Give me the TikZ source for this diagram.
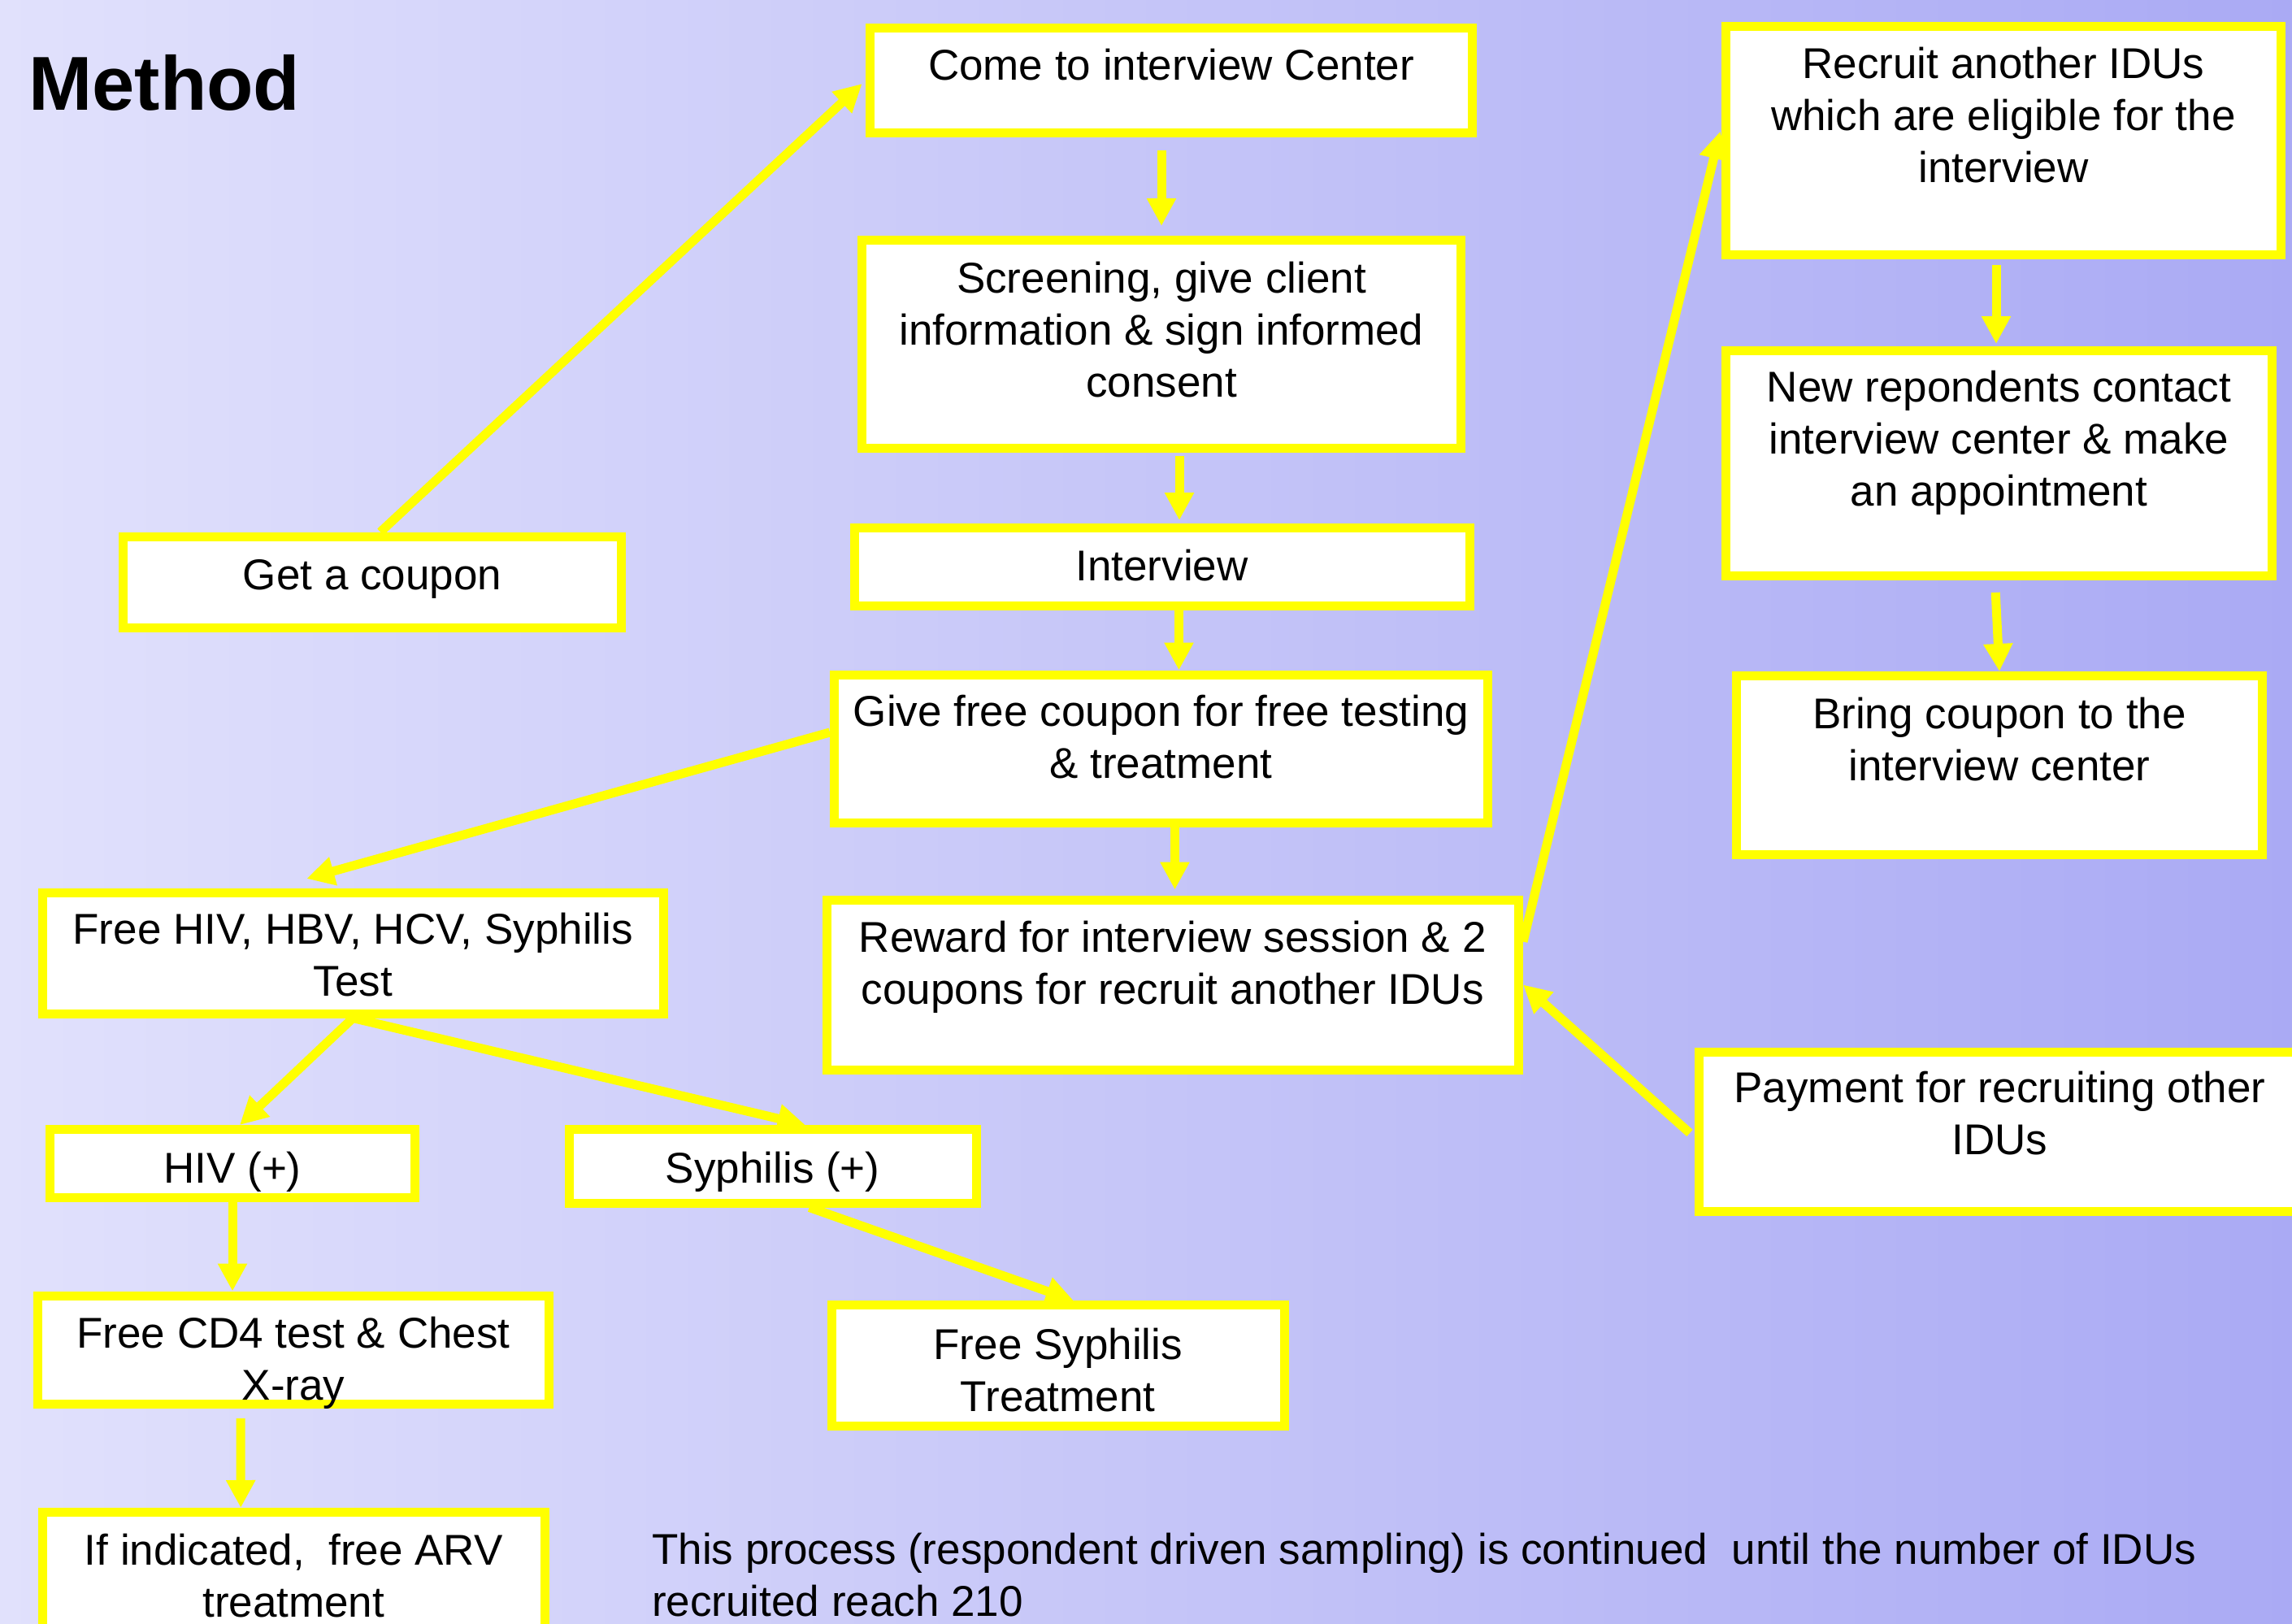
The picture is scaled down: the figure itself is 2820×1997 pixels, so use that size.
\documentclass[tikz,border=0pt]{standalone}
\usepackage{fontspec}
\setmainfont{Liberation Sans}
\usetikzlibrary{arrows.meta,calc}
\definecolor{bgL}{RGB}{225,225,252}
\definecolor{bgR}{RGB}{170,170,244}
\definecolor{ylw}{RGB}{255,255,0}
\newcommand{\boxtxt}[4]{\parbox[c][#2pt][t]{#1pt}{\centering\vspace*{\dimexpr#3pt+3.5pt\relax}\strut #4\par}}
\begin{document}
\begin{tikzpicture}[x=1pt,y=-1pt,
  flowbox/.style={draw=ylw, line width=11pt, fill=white, inner sep=0pt, anchor=north west,
    xshift=-5.5pt, yshift=5.5pt, font=\fontsize{53}{64}\selectfont},
  arr/.style={draw=ylw, line width=11pt, -{Triangle[length=34pt,width=34pt]}},
  plain/.style={inner sep=0pt, font=\fontsize{53}{64}\selectfont},
]
\clip (0,0) rectangle (2820,1997);
\shade[left color=bgL, right color=bgR] (0,0) rectangle (2820,1997);

\node[plain, anchor=base west, font=\fontsize{94}{110}\selectfont\bfseries] (title) at (35,135) {Method};

\node[flowbox] (come) at (1070.5,34.5) {\boxtxt{741}{129}{16}{Come to interview Center}};
\node[flowbox] (screen) at (1060.5,295.5) {\boxtxt{737}{256}{16.5}{Screening, give client\\information \& sign informed\\consent}};
\node[flowbox] (interview) at (1051,649.5) {\boxtxt{757}{96}{17}{Interview}};
\node[flowbox] (coupon) at (151.5,660) {\boxtxt{613}{112.5}{17}{Get a coupon}};
\node[flowbox] (give) at (1026.5,830) {\boxtxt{804}{182}{15}{Give free coupon for free testing\\\& treatment}};
\node[flowbox] (reward) at (1017,1107) {\boxtxt{851.5}{209}{16}{Reward for interview session \& 2\\coupons for recruit another IDUs}};
\node[flowbox] (hivtest) at (52,1098.5) {\boxtxt{764.5}{148.5}{15}{Free HIV, HBV, HCV, Syphilis\\Test}};
\node[flowbox] (hivpos) at (61.5,1389.5) {\boxtxt{449}{84}{17.5}{HIV (+)}};
\node[flowbox] (syphpos) at (700,1389.5) {\boxtxt{501.5}{90.5}{17.5}{Syphilis (+)}};
\node[flowbox] (cd4) at (46.5,1594) {\boxtxt{629}{133.5}{16}{Free CD4 test \& Chest\\X-ray}};
\node[flowbox] (syphtreat) at (1023,1605.5) {\boxtxt{557.5}{149}{19}{Free Syphilis\\Treatment}};
\node[flowbox] (arv) at (52,1860.5) {\boxtxt{618.5}{200}{16.5}{If indicated,\ \ free ARV\\treatment}};
\node[flowbox] (recruit) at (2123.5,32) {\boxtxt{683}{281.5}{16}{Recruit another IDUs\\which are eligible for the\\interview}};
\node[flowbox] (newresp) at (2123.5,431.5) {\boxtxt{672}{277}{14.5}{New repondents contact\\interview center \& make\\an appointment}};
\node[flowbox] (bring) at (2136.5,831.5) {\boxtxt{647}{220}{16.5}{Bring coupon to the\\interview center}};
\node[flowbox] (payment) at (2090.5,1294) {\boxtxt{740}{196.5}{14.5}{Payment for recruiting other\\IDUs}};

\node[plain, anchor=base west] (note) at (802,1924) {\parbox[t]{2000pt}{\raggedright This process (respondent driven sampling) is continued\ \ until the number of IDUs\\recruited reach 210}};

\draw[arr, shorten >=6pt] ([xshift=10pt]coupon.north) -- (come.west);
\draw[arr, shorten <=16pt, shorten >=12pt] (screen.north |- come.south) -- (screen.north);
\draw[arr, shorten <=4pt, shorten >=4pt] ([xshift=22pt]screen.south) -- ([xshift=22pt]screen.south |- interview.north);
\draw[arr] ([xshift=21pt]interview.south) -- ([xshift=21pt]interview.south |- give.north);
\draw[arr, shorten >=7pt] ([xshift=17pt]give.south) -- ([xshift=17pt]give.south |- reward.north);
\draw[arr] ([yshift=20pt]give.west) -- ([xshift=-57pt,yshift=12pt]hivtest.north);
\draw[arr] (hivtest.south) -- ([xshift=9pt]hivpos.north);
\draw[arr] (hivtest.south) -- ([xshift=40pt]syphpos.north);
\draw[arr] (hivpos.south) -- (hivpos.south |- cd4.north);
\draw[arr, shorten <=12pt] ([xshift=-65pt]cd4.south) -- ([xshift=-65pt]arv.north);
\draw[arr] ([xshift=45pt]syphpos.south) -- ([xshift=19pt]syphtreat.north);
\draw[arr, shorten >=6pt] ([yshift=53pt]reward.east) -- ([yshift=17pt]recruit.west);
\draw[arr, shorten <=8pt] ([yshift=-7pt]payment.west) -- (reward.east);
\draw[arr, shorten <=7pt, shorten >=3pt] ([xshift=-9pt]recruit.south) -- ([xshift=-9pt]recruit.south |- newresp.north);
\draw[arr, shorten <=15pt] ([xshift=-5pt]newresp.south) -- (bring.north);
\end{tikzpicture}
\end{document}
